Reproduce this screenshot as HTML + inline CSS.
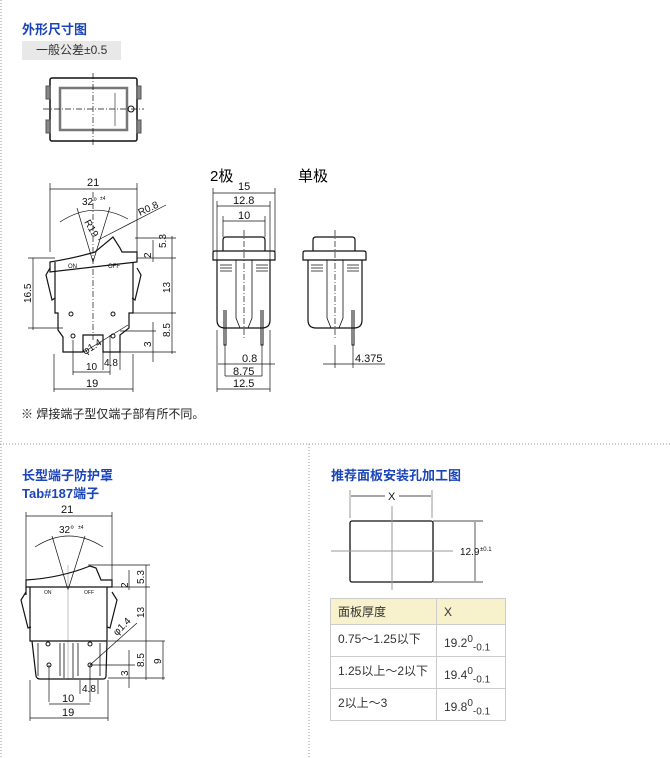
<!DOCTYPE html>
<html><head><meta charset="utf-8"><style>
html,body{margin:0;padding:0;background:#fff;}
body{width:670px;height:758px;position:relative;overflow:hidden;font-family:"Liberation Sans","Noto Sans CJK SC",sans-serif;}
.t{position:absolute;color:#1a44b8;font-weight:bold;font-size:13px;}
svg{position:absolute;left:0;top:0;}
svg text{font-family:"Liberation Sans","Noto Sans CJK SC",sans-serif;fill:#111;}
</style></head><body>
<div class="t" style="left:22px;top:19px;">外形尺寸图</div>
<div style="position:absolute;left:22px;top:41px;width:99px;height:19px;background:#e8e8e8;font-size:12px;color:#333;line-height:19px;text-indent:14px;">一般公差±0.5</div>
<div style="position:absolute;left:21px;top:405px;font-size:12px;color:#222;">※ 焊接端子型仅端子部有所不同。</div>
<div class="t" style="left:22px;top:465px;">长型端子防护罩</div>
<div class="t" style="left:22px;top:483px;">Tab#187端子</div>
<div class="t" style="left:331px;top:465px;">推荐面板安装孔加工图</div>
<div style="position:absolute;left:210px;top:165px;font-size:15px;">2极</div>
<div style="position:absolute;left:298px;top:165px;font-size:15px;">单极</div>

<table style="position:absolute;left:330px;top:598px;border-collapse:collapse;font-size:12px;color:#333;">
<tr style="background:#f7f2cc;height:26px;"><td style="border:1px solid #ccc;width:97px;padding-left:7px;">面板厚度</td><td style="border:1px solid #ccc;width:60px;padding-left:7px;">X</td></tr>
<tr style="height:32px;"><td style="border:1px solid #ccc;padding-left:7px;vertical-align:top;padding-top:5px;">0.75～1.25以下</td><td style="border:1px solid #ccc;padding-left:7px;padding-top:8px;">19.2<sup>0</sup><sub>-0.1</sub></td></tr>
<tr style="height:32px;"><td style="border:1px solid #ccc;padding-left:7px;vertical-align:top;padding-top:5px;">1.25以上～2以下</td><td style="border:1px solid #ccc;padding-left:7px;padding-top:8px;">19.4<sup>0</sup><sub>-0.1</sub></td></tr>
<tr style="height:32px;"><td style="border:1px solid #ccc;padding-left:7px;vertical-align:top;padding-top:5px;">2以上～3</td><td style="border:1px solid #ccc;padding-left:7px;padding-top:8px;">19.8<sup>0</sup><sub>-0.1</sub></td></tr>
</table>

<svg width="670" height="758" viewBox="0 0 670 758" fill="none" stroke="#111" stroke-width="1">
<g stroke="#999" stroke-dasharray="1,2">
<line x1="1" y1="0" x2="1" y2="758"/>
<line x1="0" y1="444" x2="670" y2="444"/>
<line x1="309" y1="444" x2="309" y2="758"/>
</g>

<rect x="50" y="78" width="87" height="63" rx="2" stroke-width="1.5"/>
<rect x="46" y="86" width="4" height="13" fill="#888" stroke="#555"/>
<rect x="46" y="120" width="4" height="13" fill="#888" stroke="#555"/>
<rect x="137" y="86" width="4" height="13" fill="#888" stroke="#555"/>
<rect x="137" y="120" width="4" height="13" fill="#888" stroke="#555"/>
<rect x="60" y="88" width="67" height="42" stroke="#777" stroke-width="2.5"/>
<line x1="115" y1="93" x2="115" y2="126" stroke="#777"/>
<circle cx="131" cy="109" r="3"/>
<line x1="43" y1="109" x2="144" y2="109" stroke-dasharray="6,2,1,2" stroke-width="0.7"/>
<line x1="93" y1="73" x2="93" y2="146" stroke-dasharray="6,2,1,2" stroke-width="0.7"/>

<g stroke-width="0.7">
<line x1="50" y1="183" x2="50" y2="252"/><line x1="137" y1="183" x2="137" y2="252"/>
<line x1="50" y1="189" x2="137" y2="189"/>
<path d="M60 222 Q93 200 128 219"/>
<line x1="77" y1="208" x2="93" y2="262"/><line x1="110" y1="207" x2="93" y2="262"/>
<line x1="98" y1="240" x2="166" y2="205"/>
<line x1="135" y1="238" x2="176" y2="238"/>
<line x1="137" y1="258" x2="176" y2="258"/>
<line x1="133" y1="313" x2="176" y2="313"/>
<line x1="120" y1="331" x2="156" y2="331"/>
<line x1="120" y1="352" x2="176" y2="352"/>
<line x1="153" y1="240" x2="153" y2="262"/>
<line x1="172" y1="236" x2="172" y2="354"/>
<line x1="153" y1="322" x2="153" y2="362"/>
<line x1="33" y1="258" x2="33" y2="330"/>
<line x1="28" y1="258" x2="55" y2="258"/><line x1="28" y1="328" x2="63" y2="328"/>
<line x1="73" y1="340" x2="73" y2="375"/><line x1="110" y1="335" x2="110" y2="375"/>
<line x1="73" y1="372" x2="110" y2="372"/>
<line x1="103" y1="345" x2="103" y2="370"/><line x1="120" y1="345" x2="120" y2="370"/>
<line x1="54" y1="354" x2="54" y2="392"/><line x1="133" y1="354" x2="133" y2="392"/>
<line x1="54" y1="389" x2="133" y2="389"/>
<line x1="84" y1="352" x2="128" y2="325"/>
<line x1="93" y1="192" x2="93" y2="340" stroke-dasharray="6,2,1,2"/>
</g>
<path d="M50 272 L50 262 Q75 258 95 252 L113 237 L120 248 L122 252 L137 252 L137 262 Z" stroke-width="1.2"/>
<path d="M55 262 L55 313 L58 313 L58 330 L63 337 L63 352 L83 352 L83 335 L103 335 L103 352 L120 352 L120 335 L129 328 L129 313 L133 313 L133 262" stroke-width="1.2"/>
<path d="M50 268 L46 275 L52 300 L55 298 M137 268 L141 275 L135 300 L132 298" stroke-width="1.2"/>
<circle cx="73" cy="336" r="2"/><circle cx="113" cy="336" r="2"/>
<circle cx="71" cy="314" r="2"/><circle cx="113" cy="314" r="2"/>
<g stroke="none" fill="#111" font-size="11">
<text x="87" y="186">21</text>
<text x="82" y="205" font-size="10">32°</text><text x="100" y="200" font-size="5">±4</text>
<text x="140" y="216" font-size="10" transform="rotate(-25 140 216)">R0.8</text>
<text x="84" y="222" font-size="10" transform="rotate(60 84 222)">R19</text>
<text x="68" y="268" font-size="6">ON</text><text x="108" y="268" font-size="6">OFF</text>
<text x="0" y="0" font-size="10" transform="translate(166 248) rotate(-90)">5.3</text>
<text x="0" y="0" font-size="10" transform="translate(151 258) rotate(-90)">2</text>
<text x="0" y="0" font-size="10" transform="translate(170 293) rotate(-90)">13</text>
<text x="0" y="0" font-size="10" transform="translate(170 337) rotate(-90)">8.5</text>
<text x="0" y="0" font-size="10" transform="translate(151 347) rotate(-90)">3</text>
<text x="0" y="0" font-size="10" transform="translate(31 303) rotate(-90)">16.5</text>
<text x="0" y="0" font-size="10" transform="translate(85 355) rotate(-32)">φ1.4</text>
<text x="104" y="366" font-size="10">4.8</text>
<text x="86" y="370" font-size="10">10</text>
<text x="86" y="387">19</text>
</g>

<g stroke-width="0.7">
<line x1="213" y1="188" x2="213" y2="252"/><line x1="275" y1="188" x2="275" y2="252"/>
<line x1="213" y1="193" x2="275" y2="193"/>
<line x1="217" y1="206" x2="270" y2="206"/><line x1="217" y1="201" x2="217" y2="260"/><line x1="270" y1="201" x2="270" y2="260"/>
<line x1="223" y1="221" x2="265" y2="221"/><line x1="223" y1="216" x2="223" y2="237"/><line x1="265" y1="216" x2="265" y2="237"/>
<line x1="244" y1="230" x2="244" y2="340" stroke-dasharray="6,2,1,2"/>
<line x1="218" y1="364" x2="275" y2="364"/>
<line x1="225" y1="345" x2="225" y2="376"/><line x1="262" y1="345" x2="262" y2="376"/>
<line x1="225" y1="376" x2="262" y2="376"/>
<line x1="217" y1="330" x2="217" y2="392"/><line x1="270" y1="330" x2="270" y2="392"/>
<line x1="217" y1="389" x2="270" y2="389"/>
</g>
<path d="M223 251 L223 240 Q223 237 226 237 L262 237 Q265 237 265 240 L265 251 M213 260 L213 253 Q213 251 215 251 L273 251 Q275 251 275 253 L275 260 Z" stroke-width="1.2"/>
<path d="M217 260 L217 320 Q217 328 225 328 L262 328 Q270 328 270 320 L270 260" stroke-width="1.2"/>
<path d="M236 260 L236 318 L240 328 M252 260 L252 318 L248 328 M220 265 L232 265 M256 265 L268 265 M220 268 L232 268 M256 268 L268 268 M220 271 L232 271 M256 271 L268 271" stroke-width="0.8"/>
<path d="M224 310 L224 345 L226 345 L226 310 M261 310 L261 345 L263 345 L263 310" stroke-width="1"/>
<g stroke="none" fill="#111" font-size="11">
<text x="238" y="190">15</text><text x="233" y="204">12.8</text><text x="238" y="219">10</text>
<text x="242" y="362">0.8</text><text x="233" y="375">8.75</text><text x="233" y="387">12.5</text>
</g>

<path d="M313 251 L313 240 Q313 237 316 237 L352 237 Q355 237 355 240 L355 251 M303 260 L303 253 Q303 251 305 251 L364 251 Q366 251 366 253 L366 260 Z" stroke-width="1.2"/>
<path d="M308 260 L308 320 Q308 328 316 328 L354 328 Q362 328 362 320 L362 260" stroke-width="1.2"/>
<path d="M327 260 L327 318 L331 328 M343 260 L343 318 L339 328 M311 265 L323 265 M347 265 L359 265 M311 268 L323 268 M347 268 L359 268 M311 271 L323 271 M347 271 L359 271" stroke-width="0.8"/>
<path d="M352 310 L352 345 L354 345 L354 310" stroke-width="1"/>
<g stroke-width="0.7">
<line x1="335" y1="230" x2="335" y2="340" stroke-dasharray="6,2,1,2"/>
<line x1="323" y1="364" x2="385" y2="364"/><line x1="335" y1="345" x2="335" y2="368"/><line x1="353" y1="345" x2="353" y2="368"/>
</g>
<text x="355" y="362" font-size="11" stroke="none" fill="#111">4.375</text>

<g stroke-width="0.7">
<line x1="26" y1="512" x2="26" y2="580"/><line x1="112" y1="512" x2="112" y2="580"/>
<line x1="26" y1="516" x2="112" y2="516"/>
<path d="M35 547 Q69 525 103 547"/>
<line x1="52" y1="536" x2="68" y2="590"/><line x1="85" y1="536" x2="68" y2="590"/>
<line x1="68" y1="565" x2="68" y2="680" stroke="#aaa"/>
<line x1="88" y1="565" x2="150" y2="565"/><line x1="112" y1="587" x2="150" y2="587"/>
<line x1="108" y1="641" x2="165" y2="641"/><line x1="108" y1="678" x2="165" y2="678"/>
<line x1="90" y1="665" x2="135" y2="665"/>
<line x1="129" y1="570" x2="129" y2="590"/><line x1="146" y1="565" x2="146" y2="680"/>
<line x1="163" y1="641" x2="163" y2="680"/><line x1="129" y1="650" x2="129" y2="688"/>
<line x1="90" y1="665" x2="137" y2="623"/>
<line x1="49" y1="665" x2="49" y2="702"/><line x1="90" y1="665" x2="90" y2="702"/>
<line x1="49" y1="704" x2="90" y2="704"/>
<line x1="80" y1="680" x2="80" y2="694"/><line x1="98" y1="680" x2="98" y2="694"/>
<line x1="30" y1="680" x2="30" y2="721"/><line x1="108" y1="680" x2="108" y2="721"/>
<line x1="30" y1="718" x2="108" y2="718"/>
</g>
<path d="M26 595 L26 580 Q60 578 90 566 L96 568 L101 580 L112 580 L112 587 L26 587" stroke-width="1.2"/>
<path d="M30 587 L30 641 L107 641 L107 587 M32 641 L36 676 Q37 679 40 679 L103 679 Q106 679 106 676 L107 641" stroke-width="1.2"/>
<path d="M26 592 L21 600 L28 628 L31 627 M112 592 L117 600 L110 628 L107 627" stroke-width="1.2"/>
<path d="M38 643 L38 676 M60 643 L60 676 M78 643 L78 676 M100 643 L100 676 M64 643 L64 678 M73 643 L73 678" stroke-width="0.8"/>
<circle cx="49" cy="665" r="2"/><circle cx="90" cy="665" r="2"/>
<circle cx="48" cy="644" r="2"/><circle cx="90" cy="644" r="2"/>
<g stroke="none" fill="#111" font-size="11">
<text x="61" y="513">21</text>
<text x="59" y="533" font-size="10">32°</text><text x="78" y="529" font-size="5">±4</text>
<text x="44" y="594" font-size="5">ON</text><text x="84" y="594" font-size="5">OFF</text>
<text x="0" y="0" font-size="10" transform="translate(128 588) rotate(-90)">2</text>
<text x="0" y="0" font-size="10" transform="translate(144 584) rotate(-90)">5.3</text>
<text x="0" y="0" font-size="10" transform="translate(144 618) rotate(-90)">13</text>
<text x="0" y="0" font-size="10" transform="translate(144 667) rotate(-90)">8.5</text>
<text x="0" y="0" font-size="10" transform="translate(161 664) rotate(-90)">9</text>
<text x="0" y="0" font-size="10" transform="translate(128 676) rotate(-90)">3</text>
<text x="0" y="0" font-size="10" transform="translate(117 636) rotate(-45)">φ1.4</text>
<text x="82" y="692" font-size="10">4.8</text>
<text x="62" y="702">10</text>
<text x="62" y="716">19</text>
</g>

<rect x="350" y="521" width="83" height="61" rx="2" stroke-width="1.3"/>
<g stroke="#999">
<line x1="392" y1="506" x2="392" y2="590"/><line x1="331" y1="551" x2="453" y2="551"/>
<line x1="350" y1="490" x2="350" y2="518"/><line x1="432" y1="490" x2="432" y2="518"/>
</g>
<g stroke-width="0.7">
<line x1="351" y1="496" x2="385" y2="496"/><line x1="399" y1="496" x2="431" y2="496"/>
<line x1="433" y1="521" x2="483" y2="521"/><line x1="433" y1="582" x2="483" y2="582"/>
<line x1="475" y1="522" x2="475" y2="581"/>
</g>
<text x="388" y="500" font-size="11" stroke="none" fill="#111">X</text>
<text x="460" y="555" font-size="10" stroke="none" fill="#111">12.9</text><text x="480" y="551" font-size="6" stroke="none" fill="#111">±0.1</text>
</svg>
</body></html>
